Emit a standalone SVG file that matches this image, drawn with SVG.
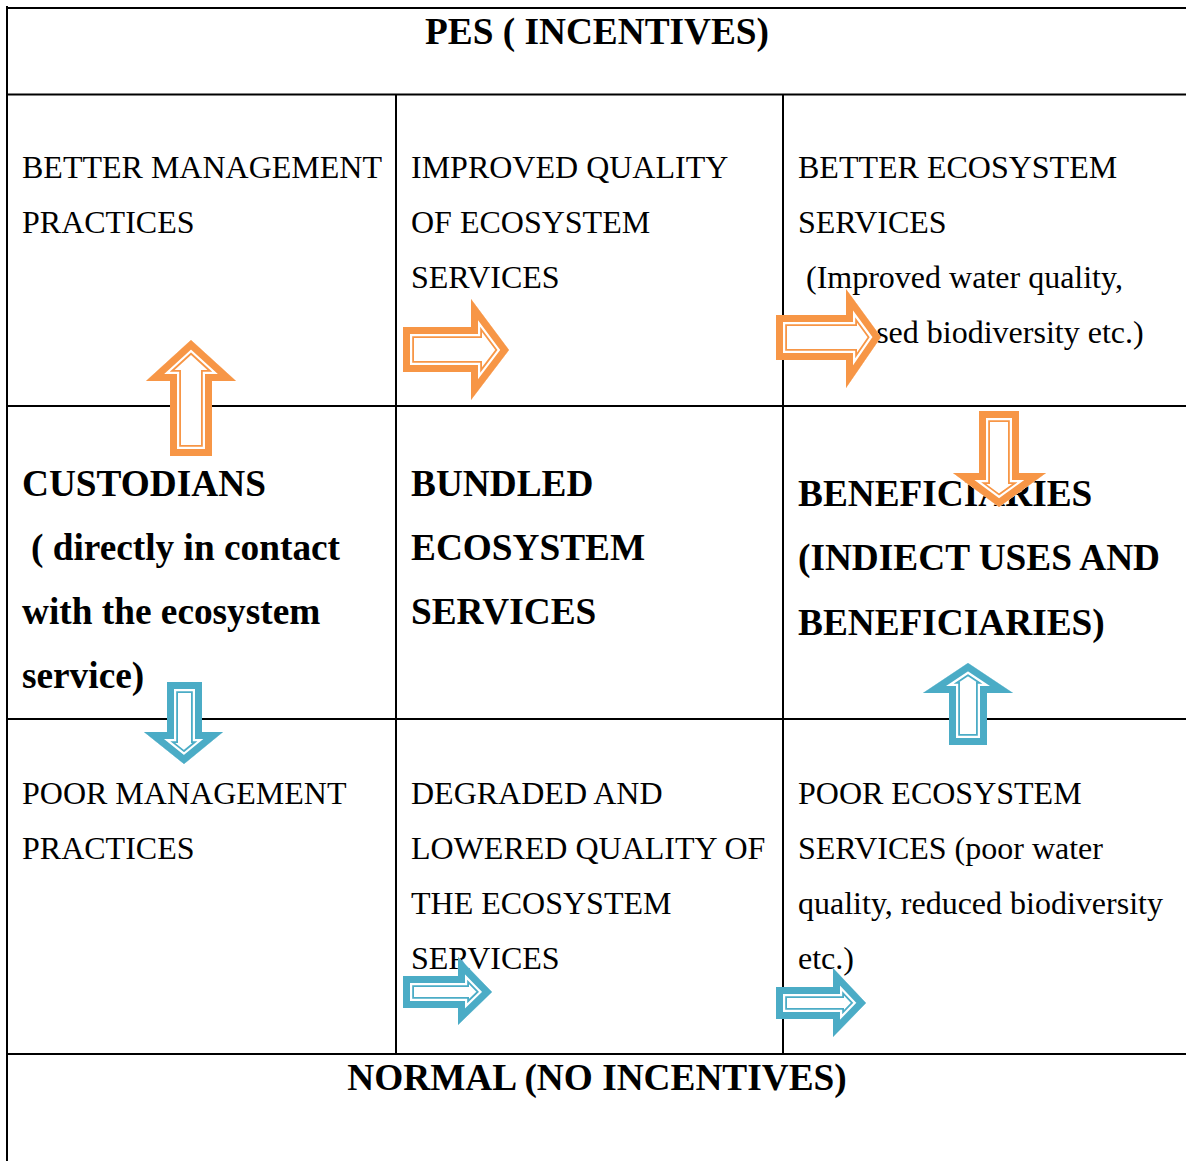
<svg xmlns="http://www.w3.org/2000/svg" xmlns:xlink="http://www.w3.org/1999/xlink" width="1186" height="1161" viewBox="0 0 1186 1161">
  <style>
    text { font-family: "Liberation Serif", "Times New Roman", serif; fill: #000; }
    .r { font-size: 32px; }
    .b { font-size: 37.3px; font-weight: bold; }
    .grid line { stroke: #000; stroke-width: 2; }
    .org { --c: #F79646; }
    .blu { --c: #4BACC6; }
    .base { fill: #fff; stroke: none; }
    .s1 { fill: none; stroke-width: 22; stroke-linejoin: miter; stroke-miterlimit: 10; }
    .s2 { fill: none; stroke: #fff; stroke-width: 18.4; stroke-linejoin: miter; stroke-miterlimit: 10; }
    .s3 { fill: none; stroke-width: 14; stroke-linejoin: miter; stroke-miterlimit: 10; }
    .org .s1, .org .s3 { stroke: #F79646; }
    .blu .s1, .blu .s3 { stroke: #4BACC6; }
  </style>
  <defs>
    <!-- block-arrow outlines -->
    <polygon id="a1" points="191,340 236,381 212,381 212,456 170,456 170,381 146,381"/>
    <polygon id="a2" points="403,327 471,327 471,299 509,350 471,400 471,372 403,372"/>
    <polygon id="a3" points="776,315 846,315 846,289 881,337 846,388 846,360 776,360"/>
    <polygon id="a4" points="979,411 1019,411 1019,473 1046,473 999,507 953,473 979,473"/>
    <polygon id="a5" points="167,682 202,682 202,732 223,732 184,764 144,732 167,732"/>
    <polygon id="a6" points="403,976 458,976 458,957 492,992 458,1025 458,1008 403,1008"/>
    <polygon id="a7" points="776,987 833,987 833,968 866,1003 833,1037 833,1019 776,1019"/>
    <polygon id="a8" points="968,663 1013,693 987,693 987,745 949,745 949,693 923,693"/>
    <clipPath id="c1"><use xlink:href="#a1"/></clipPath>
    <clipPath id="c2"><use xlink:href="#a2"/></clipPath>
    <clipPath id="c3"><use xlink:href="#a3"/></clipPath>
    <clipPath id="c4"><use xlink:href="#a4"/></clipPath>
    <clipPath id="c5"><use xlink:href="#a5"/></clipPath>
    <clipPath id="c6"><use xlink:href="#a6"/></clipPath>
    <clipPath id="c7"><use xlink:href="#a7"/></clipPath>
    <clipPath id="c8"><use xlink:href="#a8"/></clipPath>
  </defs>

  <rect width="1186" height="1161" fill="#fff"/>

  <!-- table rules -->
  <g class="grid">
    <line x1="7" y1="6" x2="7" y2="1161"/>
    <line x1="6" y1="8" x2="1186" y2="8"/>
    <line x1="6" y1="94.5" x2="1186" y2="94.5"/>
    <line x1="6" y1="406" x2="1186" y2="406"/>
    <line x1="6" y1="719" x2="1186" y2="719"/>
    <line x1="6" y1="1054" x2="1186" y2="1054"/>
    <line x1="396" y1="94" x2="396" y2="1054"/>
    <line x1="783" y1="94" x2="783" y2="1054"/>
  </g>

  <g id="header-pes">
    <text class="b" x="597" y="44" text-anchor="middle">PES ( INCENTIVES)</text>
  </g>

  <g id="better-management">
    <text class="r" x="22" y="178">BETTER MANAGEMENT</text>
    <text class="r" x="22" y="233">PRACTICES</text>
  </g>
  <g id="improved-quality">
    <text class="r" x="411" y="178">IMPROVED QUALITY</text>
    <text class="r" x="411" y="233">OF ECOSYSTEM</text>
    <text class="r" x="411" y="288">SERVICES</text>
  </g>
  <g id="better-services">
    <text class="r" x="798" y="178">BETTER ECOSYSTEM</text>
    <text class="r" x="798" y="233">SERVICES</text>
    <text class="r" x="806" y="288">(Improved water quality,</text>
    <text class="r" x="798" y="343">increased biodiversity etc.)</text>
  </g>

  <g id="custodians">
    <text class="b" x="22" y="496">CUSTODIANS</text>
    <text class="b" x="31" y="560">( directly in contact</text>
    <text class="b" x="22" y="624">with the ecosystem</text>
    <text class="b" x="22" y="688">service)</text>
  </g>
  <g id="bundled">
    <text class="b" x="411" y="496">BUNDLED</text>
    <text class="b" x="411" y="560">ECOSYSTEM</text>
    <text class="b" x="411" y="624">SERVICES</text>
  </g>
  <g id="beneficiaries">
    <text class="b" x="798" y="506">BENEFICIARIES</text>
    <text class="b" x="798" y="570">(INDIECT USES AND</text>
    <text class="b" x="798" y="635">BENEFICIARIES)</text>
  </g>

  <g id="poor-management">
    <text class="r" x="22" y="804">POOR MANAGEMENT</text>
    <text class="r" x="22" y="859">PRACTICES</text>
  </g>
  <g id="degraded">
    <text class="r" x="411" y="804">DEGRADED AND</text>
    <text class="r" x="411" y="859">LOWERED QUALITY OF</text>
    <text class="r" x="411" y="914">THE ECOSYSTEM</text>
    <text class="r" x="411" y="969">SERVICES</text>
  </g>
  <g id="poor-services">
    <text class="r" x="798" y="804">POOR ECOSYSTEM</text>
    <text class="r" x="798" y="859">SERVICES (poor water</text>
    <text class="r" x="798" y="914">quality, reduced biodiversity</text>
    <text class="r" x="798" y="969">etc.)</text>
  </g>

  <g id="header-normal">
    <text class="b" x="597" y="1090" text-anchor="middle">NORMAL (NO INCENTIVES)</text>
  </g>

  <!-- double-outlined block arrows -->
  <g id="connectors">
    <g class="org" clip-path="url(#c1)">
      <use xlink:href="#a1" class="base"/><use xlink:href="#a1" class="s1"/><use xlink:href="#a1" class="s2"/><use xlink:href="#a1" class="s3"/>
    </g>
    <g class="org" clip-path="url(#c2)">
      <use xlink:href="#a2" class="base"/><use xlink:href="#a2" class="s1"/><use xlink:href="#a2" class="s2"/><use xlink:href="#a2" class="s3"/>
    </g>
    <g class="org" clip-path="url(#c3)">
      <use xlink:href="#a3" class="base"/><use xlink:href="#a3" class="s1"/><use xlink:href="#a3" class="s2"/><use xlink:href="#a3" class="s3"/>
    </g>
    <g class="org" clip-path="url(#c4)">
      <use xlink:href="#a4" class="base"/><use xlink:href="#a4" class="s1"/><use xlink:href="#a4" class="s2"/><use xlink:href="#a4" class="s3"/>
    </g>
    <g class="blu" clip-path="url(#c5)">
      <use xlink:href="#a5" class="base"/><use xlink:href="#a5" class="s1"/><use xlink:href="#a5" class="s2"/><use xlink:href="#a5" class="s3"/>
    </g>
    <g class="blu" clip-path="url(#c6)">
      <use xlink:href="#a6" class="base"/><use xlink:href="#a6" class="s1"/><use xlink:href="#a6" class="s2"/><use xlink:href="#a6" class="s3"/>
    </g>
    <g class="blu" clip-path="url(#c7)">
      <use xlink:href="#a7" class="base"/><use xlink:href="#a7" class="s1"/><use xlink:href="#a7" class="s2"/><use xlink:href="#a7" class="s3"/>
    </g>
    <g class="blu" clip-path="url(#c8)">
      <use xlink:href="#a8" class="base"/><use xlink:href="#a8" class="s1"/><use xlink:href="#a8" class="s2"/><use xlink:href="#a8" class="s3"/>
    </g>
  </g>
</svg>
